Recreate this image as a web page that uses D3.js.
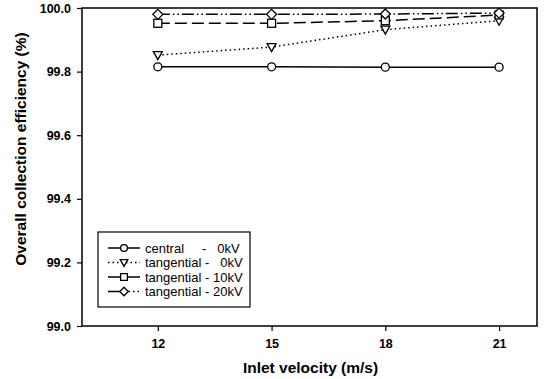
<!DOCTYPE html>
<html>
<head>
<meta charset="utf-8">
<script src="https://cdn.jsdelivr.net/npm/d3@7"></script>
<style>
  body { margin: 0; background: #fff; }
  text { font-family: "Liberation Sans", Arial, sans-serif; font-weight: bold; fill: #000; }
</style>
</head>
<body>
<div id="chart"></div>
<script>
const velocities = [12, 15, 18, 21];
const xTicks = [12, 15, 18, 21];
const yTicks = [99.0, 99.2, 99.4, 99.6, 99.8, 100.0];

const central0 = [99.815, 99.815, 99.814, 99.814];
const tangential0 = [99.852, 99.877, 99.932, 99.960];
const tangential10 = [99.952, 99.952, 99.960, 99.978];
const tangential20 = [99.980, 99.980, 99.981, 99.984];

const seriesNames = ['central     -   0kV', 'tangential -   0kV', 'tangential - 10kV', 'tangential - 20kV'];

const width = 546, height = 379;
const margin = { top: 8, right: 9, bottom: 53, left: 82 };
const w = width - margin.left - margin.right;
const h = height - margin.top - margin.bottom;

const styles = [
  { dash: null, symbol: 'circle' },
  { dash: '1.5,3', symbol: 'triangle' },
  { dash: '12,5', symbol: 'square' },
  { dash: '12,3,1.5,3,1.5,3', symbol: 'diamond' }
];
const data = [central0, tangential0, tangential10, tangential20];

const svg = d3.select('#chart').append('svg')
  .attr('width', width)
  .attr('height', height);

const chart = svg.append('g')
  .attr('transform', `translate(${margin.left}, ${margin.top})`);

const xScale = d3.scaleLinear().domain([10, 22]).range([0, w]);
const yScale = d3.scaleLinear().domain([99, 100]).range([h, 0]);

// frame
chart.append('rect')
  .attr('width', w).attr('height', h)
  .attr('fill', 'none').attr('stroke', '#000').attr('stroke-width', 1.5);

// axes
const xAxis = chart.append('g')
  .attr('transform', `translate(0, ${h})`)
  .call(d3.axisBottom(xScale).tickValues(xTicks).tickSize(5).tickPadding(8).tickFormat(d3.format('d')));
const yAxis = chart.append('g')
  .call(d3.axisLeft(yScale).tickValues(yTicks).tickSize(5).tickPadding(6).tickFormat(d3.format('.1f')));
[xAxis, yAxis].forEach(a => {
  a.select('.domain').remove();
  a.selectAll('line').attr('stroke', '#000').attr('stroke-width', 1.2);
  a.selectAll('text').style('font-size', '12.5px').style('font-family', '"Liberation Sans", Arial, sans-serif').style('font-weight', 'bold');
});

// axis titles
svg.append('text')
  .attr('x', margin.left + w / 2 + 1).attr('y', 373)
  .attr('text-anchor', 'middle').style('font-size', '15.5px')
  .text('Inlet velocity (m/s)');
svg.append('text')
  .attr('transform', `translate(26, ${margin.top + 141}) rotate(-90)`)
  .attr('text-anchor', 'middle').style('font-size', '15.5px')
  .text('Overall collection efficiency (%)');

function drawMarker(g, type, x, y, s) {
  const r = 4 * s;
  let m;
  if (type === 'circle') {
    m = g.append('circle').attr('cx', x).attr('cy', y).attr('r', r);
  } else if (type === 'triangle') {
    m = g.append('path').attr('d', `M${x - 4.5 * s},${y - 3.5 * s}L${x + 4.5 * s},${y - 3.5 * s}L${x},${y + 4.5 * s}Z`);
  } else if (type === 'square') {
    m = g.append('rect').attr('x', x - r).attr('y', y - r).attr('width', 2 * r).attr('height', 2 * r);
  } else {
    m = g.append('path').attr('d', `M${x},${y - 5 * s}L${x + 5 * s},${y}L${x},${y + 5 * s}L${x - 5 * s},${y}Z`);
  }
  m.attr('fill', '#fff').attr('stroke', '#000').attr('stroke-width', 1.3);
}

const line = d3.line().x((d, i) => xScale(velocities[i])).y(d => yScale(d));

data.forEach((vals, si) => {
  chart.append('path')
    .datum(vals)
    .attr('d', line)
    .attr('fill', 'none')
    .attr('stroke', '#000')
    .attr('stroke-width', 1.5)
    .attr('stroke-dasharray', styles[si].dash);
});
data.forEach((vals, si) => {
  const g = chart.append('g');
  vals.forEach((v, i) => drawMarker(g, styles[si].symbol, xScale(velocities[i]), yScale(v), 1));
});

// legend
const legend = svg.append('g').attr('transform', 'translate(98, 232)');
legend.append('rect')
  .attr('width', 152).attr('height', 75)
  .attr('fill', '#fff').attr('stroke', '#000').attr('stroke-width', 1.2);
const legendDash = [null, '1.5,3', null, null];
seriesNames.forEach((name, i) => {
  const y = 16 + i * 14.5;
  if (i === 3) {
    legend.append('line').attr('x1', 10).attr('x2', 26).attr('y1', y).attr('y2', y)
      .attr('stroke', '#000').attr('stroke-width', 1.5);
    legend.append('line').attr('x1', 26).attr('x2', 42).attr('y1', y).attr('y2', y)
      .attr('stroke', '#000').attr('stroke-width', 1.5).attr('stroke-dasharray', '1.5,3');
  } else {
    legend.append('line')
      .attr('x1', 10).attr('x2', 42).attr('y1', y).attr('y2', y)
      .attr('stroke', '#000').attr('stroke-width', 1.5)
      .attr('stroke-dasharray', legendDash[i]);
  }
  drawMarker(legend, styles[i].symbol, 26, y, 0.85);
  legend.append('text')
    .attr('x', 47).attr('y', y + 4.5)
    .style('font-size', '13px').style('font-weight', 'normal')
    .style('white-space', 'pre')
    .text(name);
});
</script>
</body>
</html>
